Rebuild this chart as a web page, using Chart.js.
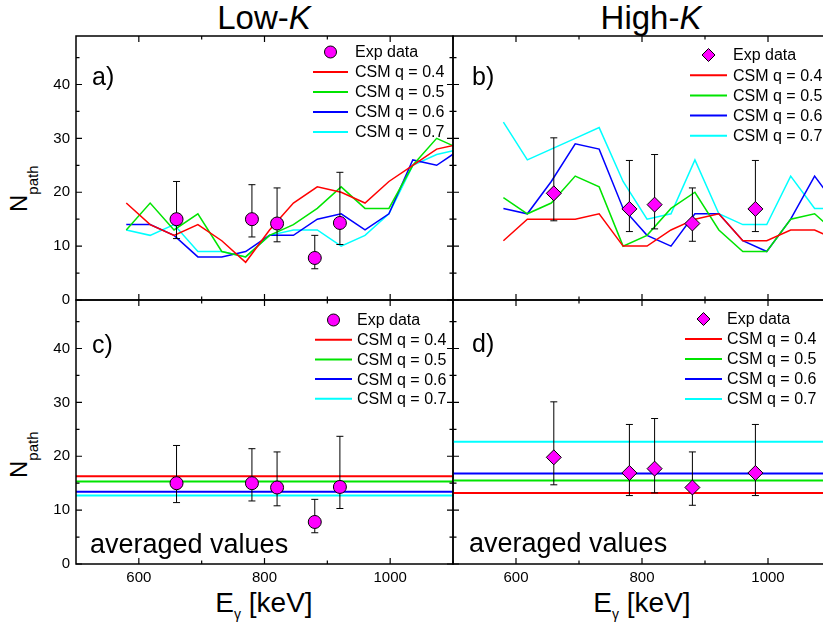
<!DOCTYPE html>
<html>
<head>
<meta charset="utf-8">
<script src="https://cdn.jsdelivr.net/npm/chart.js@4.4.1/dist/chart.umd.min.js"></script>
<style>
  html, body { margin: 0; padding: 0; background: #fff; }
  body { position: relative; width: 823px; height: 629px; overflow: hidden; }
  canvas { position: absolute; left: 0; top: 0; }
  .txt { position: absolute; font-family: 'Liberation Sans', Arial, sans-serif; color: #000; white-space: nowrap; }
  .rot { transform: rotate(-90deg); transform-origin: 0 0; }
</style>
</head>
<body>
<div class="txt" style="left:264px;top:1px;font-size:33px;line-height:33px;transform:translateX(-50%)">Low-<i>K</i></div>
<div class="txt" style="left:651px;top:1px;font-size:33px;line-height:33px;transform:translateX(-50%)">High-<i>K</i></div>

<div class="txt rot" style="left:7px;top:212px;font-size:24px;line-height:24px">N<span style="font-size:15px;position:relative;top:11px">path</span></div>
<div class="txt rot" style="left:7px;top:478px;font-size:24px;line-height:24px">N<span style="font-size:15px;position:relative;top:11px">path</span></div>

<div class="txt" style="left:264px;top:589px;font-size:28px;line-height:28px;transform:translateX(-50%)">E<span style="font-size:14px;position:relative;top:7px">&gamma;</span> [keV]</div>
<div class="txt" style="left:642px;top:589px;font-size:28px;line-height:28px;transform:translateX(-50%)">E<span style="font-size:14px;position:relative;top:7px">&gamma;</span> [keV]</div>

<canvas id="panel-a" width="860" height="629"></canvas>
<canvas id="panel-b" width="860" height="629"></canvas>
<canvas id="panel-c" width="860" height="629"></canvas>
<canvas id="panel-d" width="860" height="629"></canvas>

<script>
const FONT = "'Liberation Sans', Arial, sans-serif";

// gamma energies of the calculated points (keV)
const energyGrid = [580, 618, 656, 694, 732, 770, 808, 846, 884, 922, 960, 998, 1036, 1074, 1112];
const qLabels = ['CSM q = 0.4', 'CSM q = 0.5', 'CSM q = 0.6', 'CSM q = 0.7'];
const qColors = ['#ff0000', '#00e400', '#0000ff', '#00ffff'];

// Low-K, CSM calculations
const lowQ04 = [18, 14, 12, 14, 11, 7, 13, 18, 21, 20, 18, 22, 25, 28, 29];
const lowQ05 = [13, 18, 13, 16, 9, 8, 12, 14, 17, 21, 17, 17, 25, 30, 28];
const lowQ06 = [14, 14, 12, 8, 8, 9, 12, 12, 15, 16, 13, 16, 26, 25, 28];
const lowQ07 = [13, 12, 14, 9, 9, 8, 12, 13, 13, 10, 12, 16, 25, 27, 28];

// High-K, CSM calculations
const highQ04 = [11, 15, 15, 15, 16, 10, 10, 13, 15, 16, 11, 11, 13, 13, 11];
const highQ05 = [19, 16, 18, 23, 21, 10, 12, 17, 20, 13, 9, 9, 15, 16, 12];
const highQ06 = [17, 16, 22, 29, 28, 17, 12, 10, 16, 16, 11, 9, 15, 23, 17];
const highQ07 = [33, 26, 28, 30, 32, 22, 15, 16, 26, 16, 14, 14, 23, 17, 17];

// experimental points
const lowExpE = [660, 780, 820, 880, 920];
const lowExpN = [15.0, 15.0, 14.2, 7.8, 14.3];
const lowExpHi = [22.0, 21.4, 20.8, 12.0, 23.7];
const lowExpLo = [11.4, 11.7, 10.8, 5.8, 10.3];

const highExpE = [660, 780, 820, 880, 980];
const highExpN = [19.8, 16.9, 17.7, 14.2, 16.9];
const highExpHi = [30.1, 25.9, 27.0, 20.8, 25.9];
const highExpLo = [14.7, 12.7, 13.2, 10.9, 12.7];

// averaged CSM values (q = 0.4 .. 0.7)
const lowAvg = [16.3, 15.3, 13.4, 12.7];
const highAvg = [13.2, 15.5, 16.8, 22.7];

// axes
const xRange = [500, 1100];
const yRange = [0, 49];
const xTicks = [600, 800, 1000];
const xMinor = [700, 900, 1100];
const yTicks = [0, 10, 20, 30, 40];
const yMinor = [5, 15, 25, 35, 45];

const framePlugin = {
    id: 'frame',
    afterDraw(chart) {
        const { ctx, chartArea: a } = chart;
        const xs = chart.scales.x, ys = chart.scales.y;
        ctx.save();
        ctx.strokeStyle = '#000';
        ctx.lineWidth = 1.2;
        ctx.beginPath();
        const xt = (vals, len) => vals.forEach(v => {
            const p = xs.getPixelForValue(v);
            if (p < a.left - 0.5 || p > a.right + 0.5) return;
            ctx.moveTo(p, a.bottom); ctx.lineTo(p, a.bottom - len);
            ctx.moveTo(p, a.top); ctx.lineTo(p, a.top + len);
        });
        const yt = (vals, len) => vals.forEach(v => {
            const p = ys.getPixelForValue(v);
            if (p < a.top - 0.5 || p > a.bottom + 0.5) return;
            ctx.moveTo(a.left, p); ctx.lineTo(a.left + len, p);
            ctx.moveTo(a.right, p); ctx.lineTo(a.right - len, p);
        });
        xt(xTicks, 6); xt(xMinor, 3.5);
        yt(yTicks, 6); yt(yMinor, 3.5);
        ctx.stroke();
        ctx.lineWidth = 1.5;
        ctx.strokeRect(a.left, a.top, a.right - a.left, a.bottom - a.top);
        ctx.restore();
    }
};

const errorBarPlugin = {
    id: 'errorBars',
    beforeDatasetDraw(chart, args) {
        const ds = chart.data.datasets[args.index];
        if (!ds.errHigh) return;
        const ctx = chart.ctx;
        const xs = chart.scales.x, ys = chart.scales.y;
        ctx.save();
        ctx.strokeStyle = '#000';
        ctx.lineWidth = 1;
        ctx.beginPath();
        ds.data.forEach((pt, i) => {
            const px = xs.getPixelForValue(pt.x);
            const top = ys.getPixelForValue(ds.errHigh[i]);
            const bot = ys.getPixelForValue(ds.errLow[i]);
            ctx.moveTo(px, top); ctx.lineTo(px, bot);
            ctx.moveTo(px - 3.5, top); ctx.lineTo(px + 3.5, top);
            ctx.moveTo(px - 3.5, bot); ctx.lineTo(px + 3.5, bot);
        });
        ctx.stroke();
        ctx.restore();
    }
};

function annotatePlugin(cfg) {
    return {
        id: 'annotate',
        afterDraw(chart) {
            const ctx = chart.ctx;
            ctx.save();
            ctx.fillStyle = '#000';
            ctx.textBaseline = 'alphabetic';
            cfg.notes.forEach(n => {
                ctx.font = n.size + 'px ' + FONT;
                ctx.fillText(n.text, n.x, n.y);
            });
            // legend
            const lg = cfg.legend;
            ctx.font = '16px ' + FONT;
            ctx.textBaseline = 'middle';
            chart.data.datasets.forEach((ds, i) => {
                const y = lg.y0 + i * lg.dy;
                if (ds.errHigh) {
                    const cx = lg.x0 + lg.len / 2;
                    ctx.beginPath();
                    if (ds.pointStyle === 'circle') {
                        ctx.arc(cx, y, 6, 0, Math.PI * 2);
                    } else {
                        ctx.moveTo(cx - 6.5, y); ctx.lineTo(cx, y - 6.5);
                        ctx.lineTo(cx + 6.5, y); ctx.lineTo(cx, y + 6.5);
                        ctx.closePath();
                    }
                    ctx.fillStyle = ds.pointBackgroundColor;
                    ctx.fill();
                    ctx.lineWidth = 1;
                    ctx.strokeStyle = '#000';
                    ctx.stroke();
                } else {
                    ctx.beginPath();
                    ctx.moveTo(lg.x0, y); ctx.lineTo(lg.x0 + lg.len, y);
                    ctx.lineWidth = 2;
                    ctx.strokeStyle = ds.borderColor;
                    ctx.stroke();
                }
                ctx.fillStyle = '#000';
                ctx.fillText(ds.label, lg.tx, y + 1);
            });
            ctx.restore();
        }
    };
}

function buildDatasets(cfg) {
    const datasets = [{
        label: 'Exp data',
        data: cfg.expE.map((e, i) => ({ x: e, y: cfg.expN[i] })),
        errHigh: cfg.expHi,
        errLow: cfg.expLo,
        showLine: false,
        pointStyle: cfg.marker,
        pointRadius: cfg.marker === 'circle' ? 6.5 : 7.5,
        pointBackgroundColor: '#ff00ff',
        pointBorderColor: '#000',
        pointBorderWidth: 1,
        clip: false
    }];
    cfg.lines.forEach((vals, k) => {
        const data = cfg.averaged
            ? xRange.map(x => ({ x: x, y: vals }))
            : energyGrid.map((e, i) => ({ x: e, y: vals[i] }));
        datasets.push({
            label: qLabels[k],
            data: data,
            showLine: true,
            borderColor: qColors[k],
            backgroundColor: qColors[k],
            borderWidth: cfg.averaged ? 2 : 1.5,
            pointRadius: 0,
            tension: 0,
            clip: 0
        });
    });
    return datasets;
}

function drawPanel(id, cfg) {
    const tickFont = { family: FONT, size: 15 };
    new Chart(document.getElementById(id), {
        type: 'scatter',
        data: { datasets: buildDatasets(cfg) },
        options: {
            responsive: false,
            animation: false,
            events: [],
            layout: { padding: cfg.padding },
            plugins: { legend: { display: false }, tooltip: { enabled: false } },
            scales: {
                x: {
                    type: 'linear', min: xRange[0], max: xRange[1],
                    display: cfg.showX,
                    grid: { display: false, drawTicks: false },
                    border: { display: false },
                    afterBuildTicks: s => { s.ticks = xTicks.map(v => ({ value: v })); },
                    afterFit: s => { s.height = cfg.showX ? 30 : 0; },
                    ticks: { font: tickFont, color: '#000', padding: 5, maxRotation: 0, autoSkip: false,
                             callback: v => String(v) }
                },
                y: {
                    type: 'linear', min: yRange[0], max: yRange[1],
                    display: cfg.showY,
                    grid: { display: false, drawTicks: false },
                    border: { display: false },
                    afterBuildTicks: s => { s.ticks = yTicks.map(v => ({ value: v })); },
                    afterFit: s => { s.width = cfg.showY ? 76 : 0; },
                    ticks: { font: tickFont, color: '#000', padding: 6, autoSkip: false,
                             callback: v => String(v) }
                }
            }
        },
        plugins: [framePlugin, errorBarPlugin, annotatePlugin(cfg)]
    });
}

drawPanel('panel-a', {
    expE: lowExpE, expN: lowExpN, expHi: lowExpHi, expLo: lowExpLo, marker: 'circle',
    lines: [lowQ04, lowQ05, lowQ06, lowQ07], averaged: false,
    showX: false, showY: true,
    padding: { left: 0, top: 36, right: 407, bottom: 329 },
    notes: [{ text: 'a)', x: 92, y: 85, size: 25 }],
    legend: { x0: 313, len: 35, tx: 355, y0: 52, dy: 20 }
});
drawPanel('panel-b', {
    expE: highExpE, expN: highExpN, expHi: highExpHi, expLo: highExpLo, marker: 'rectRot',
    lines: [highQ04, highQ05, highQ06, highQ07], averaged: false,
    showX: false, showY: false,
    padding: { left: 453, top: 36, right: 29, bottom: 329 },
    notes: [{ text: 'b)', x: 472, y: 85, size: 25 }],
    legend: { x0: 690, len: 37, tx: 733, y0: 55, dy: 20.2 }
});
drawPanel('panel-c', {
    expE: lowExpE, expN: lowExpN, expHi: lowExpHi, expLo: lowExpLo, marker: 'circle',
    lines: lowAvg, averaged: true,
    showX: true, showY: true,
    padding: { left: 0, top: 300, right: 407, bottom: 35 },
    notes: [{ text: 'c)', x: 92, y: 353, size: 25 }, { text: 'averaged values', x: 90, y: 553, size: 27 }],
    legend: { x0: 315, len: 37, tx: 357, y0: 320, dy: 19.7 }
});
drawPanel('panel-d', {
    expE: highExpE, expN: highExpN, expHi: highExpHi, expLo: highExpLo, marker: 'rectRot',
    lines: highAvg, averaged: true,
    showX: true, showY: false,
    padding: { left: 453, top: 300, right: 29, bottom: 35 },
    notes: [{ text: 'd)', x: 472, y: 352, size: 25 }, { text: 'averaged values', x: 469, y: 552, size: 27 }],
    legend: { x0: 685, len: 37, tx: 727, y0: 319, dy: 20 }
});
</script>
</body>
</html>
